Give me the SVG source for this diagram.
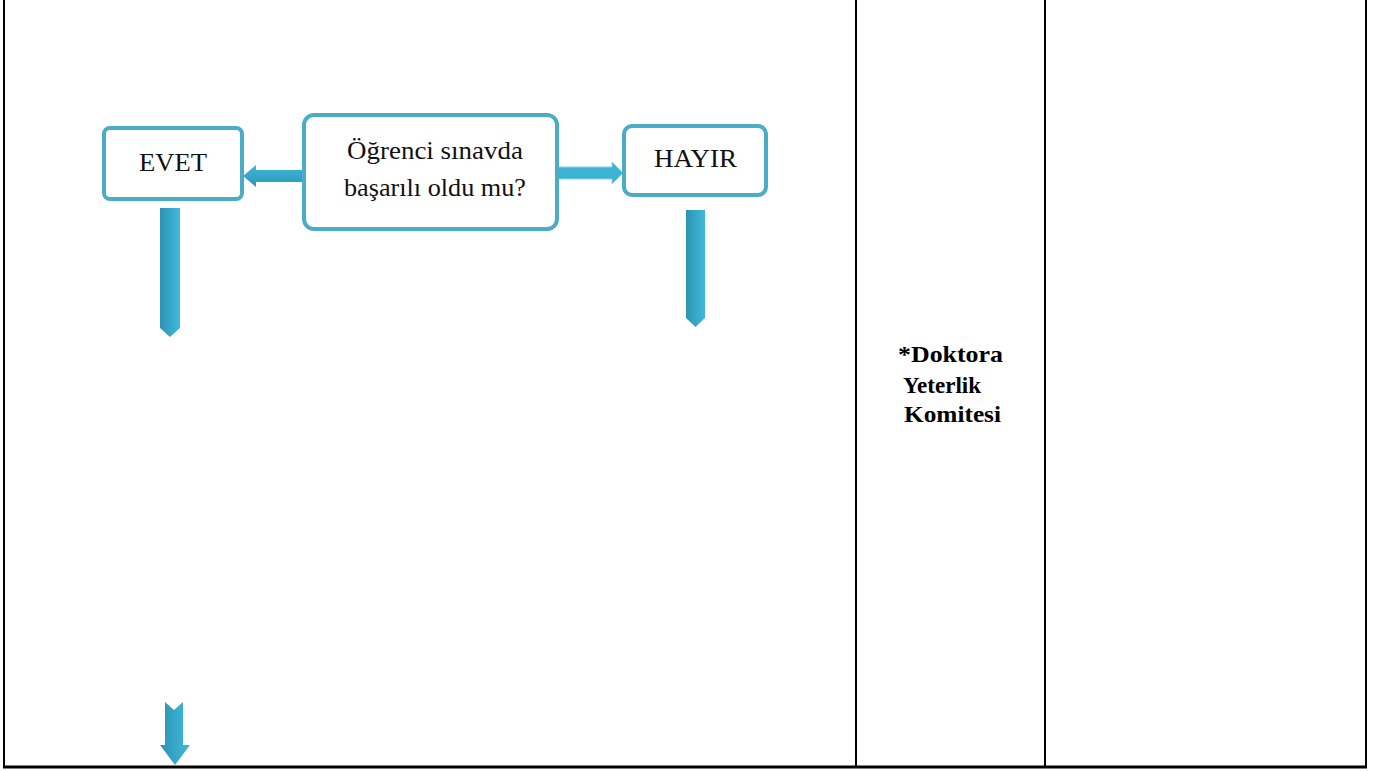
<svg xmlns="http://www.w3.org/2000/svg" width="1385" height="771" viewBox="0 0 1385 771">
<style>
.box{fill:#fff;stroke:#4bacc6;stroke-width:4}
.t{font-family:"Liberation Serif",serif;fill:#111}
.b{font-family:"Liberation Serif",serif;font-weight:bold;font-size:24px;fill:#000}
.grid{stroke:#000;stroke-width:2;fill:none}
</style>
<defs>
<linearGradient id="ag" x1="0" y1="0" x2="1" y2="0">
<stop offset="0" stop-color="#2e93b3"/>
<stop offset="1" stop-color="#3fbadb"/>
</linearGradient>
<linearGradient id="hg" x1="0" y1="0" x2="0" y2="1">
<stop offset="0" stop-color="#3db6d6"/>
<stop offset="1" stop-color="#2e98b8"/>
</linearGradient>
</defs>
<g id="table">
<line class="grid" x1="4" y1="0" x2="4" y2="768"/>
<line class="grid" x1="856" y1="0" x2="856" y2="768"/>
<line class="grid" x1="1045" y1="0" x2="1045" y2="768"/>
<line class="grid" x1="1366" y1="0" x2="1366" y2="768"/>
<line x1="3" y1="767" x2="1367" y2="767" stroke="#000" stroke-width="3"/>
</g>
<g id="connectors">
<path d="M304,170 L256,170 L256,165 L243,176 L256,187 L256,182 L304,182 Z" fill="url(#hg)"/>
<path d="M558,167 L612,167 L612,162 L623,173 L612,184 L612,179 L558,179 Z" fill="#3db3d3" stroke="#8fd3e6" stroke-width="1"/>
<path d="M160,208 L180,208 L180,328 L170,337 L160,328 Z" fill="url(#ag)"/>
<path d="M686,210 L705,210 L705,318 L695.5,327 L686,318 Z" fill="url(#ag)"/>
<path d="M165,702 L174,710 L183,702 L183,745 L190,745 L175,765 L160,745 L165,745 Z" fill="url(#ag)"/>
</g>
<g id="evet">
<rect class="box" x="104" y="128" width="138" height="71" rx="6"/>
<text class="t" x="139" y="171" font-size="26" textLength="68" lengthAdjust="spacingAndGlyphs">EVET</text>
</g>
<g id="question">
<rect class="box" x="304" y="115" width="253" height="114" rx="10"/>
<text class="t" x="347" y="159" font-size="26" textLength="176" lengthAdjust="spacingAndGlyphs">Öğrenci sınavda</text>
<text class="t" x="344" y="196" font-size="26" textLength="182" lengthAdjust="spacingAndGlyphs">başarılı oldu mu?</text>
</g>
<g id="hayir">
<rect class="box" x="624" y="126" width="142" height="69" rx="8"/>
<text class="t" x="654" y="167" font-size="25" textLength="83" lengthAdjust="spacingAndGlyphs">HAYIR</text>
</g>
<g id="committee">
<text class="b" x="898" y="362" textLength="105" lengthAdjust="spacingAndGlyphs">*Doktora</text>
<text class="b" x="903" y="393" textLength="78" lengthAdjust="spacingAndGlyphs">Yeterlik</text>
<text class="b" x="904" y="422" textLength="97" lengthAdjust="spacingAndGlyphs">Komitesi</text>
</g>
</svg>
